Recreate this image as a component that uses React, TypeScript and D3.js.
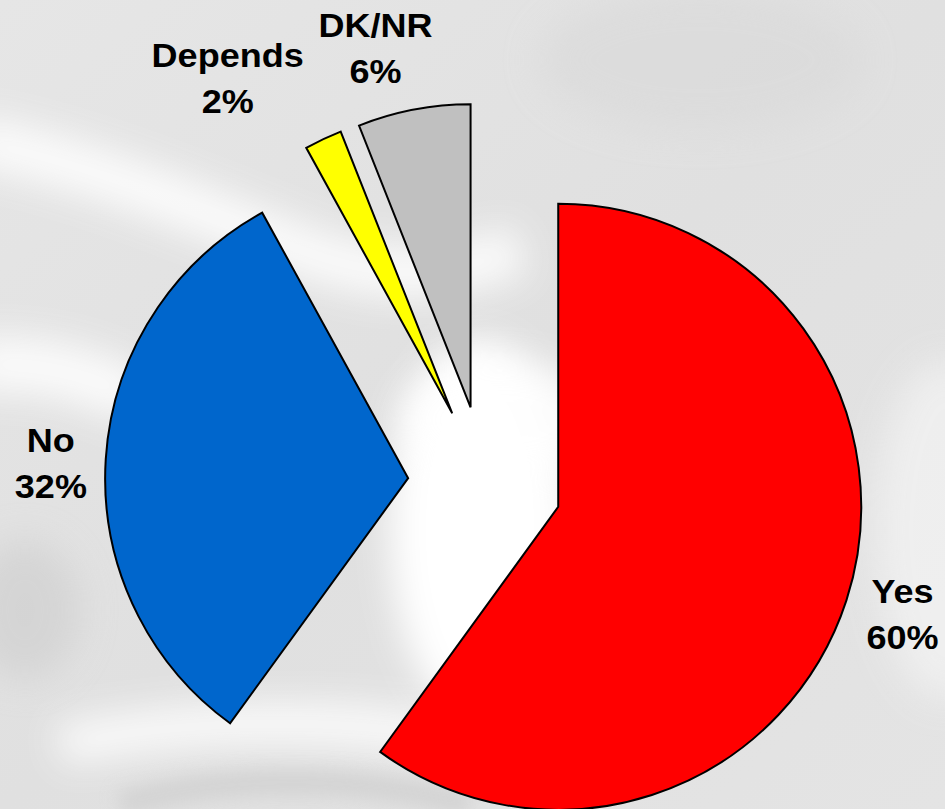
import React from "react";
import * as d3 from "d3";

const categories = ["Yes", "No", "Depends", "DK/NR"];
const values = [60, 32, 2, 6];
const labels = ["60%", "32%", "2%", "6%"];
const colors = ["#FF0000", "#0066CC", "#FFFF00", "#C0C0C0"];

const W = 945;
const H = 809;
const CX = 485;
const CY = 483;
const R = 303;
const EXPLODE = 77;
const LABEL_R = 440;
const labelNudge: [number, number][] = [
  [-1, -4],
  [5, 9],
  [-70, -6],
  [-27, -2],
];

export default function App() {
  const pie = d3
    .pie<number>()
    .sort(null)
    .startAngle(0)
    .endAngle(2 * Math.PI)
    .value((d) => d);
  const arcs = pie(values);
  const arc = d3.arc<d3.PieArcDatum<number>>().innerRadius(0).outerRadius(R);

  return (
    <svg
      width={W}
      height={H}
      style={{ position: "absolute", left: 0, top: 0, display: "block" }}
    >
      <defs>
        <filter
          id="blur20"
          filterUnits="userSpaceOnUse"
          x={-100}
          y={-100}
          width={W + 200}
          height={H + 200}
        >
          <feGaussianBlur stdDeviation="18" />
        </filter>
        <filter
          id="blur10"
          filterUnits="userSpaceOnUse"
          x={-100}
          y={-100}
          width={W + 200}
          height={H + 200}
        >
          <feGaussianBlur stdDeviation="9" />
        </filter>
        <linearGradient id="bgGrad" x1="0" y1="0" x2="1" y2="1">
          <stop offset="0" stopColor="#e6e6e6" />
          <stop offset="0.5" stopColor="#e0e0e0" />
          <stop offset="1" stopColor="#e4e4e4" />
        </linearGradient>
      </defs>
      <rect x={0} y={0} width={W} height={H} fill="url(#bgGrad)" />
      <g>
        <path
          d="M -30 140 C 80 160 200 210 300 250 C 380 280 430 280 520 250"
          stroke="#ffffff"
          strokeWidth={50}
          fill="none"
          opacity={0.85}
          filter="url(#blur20)"
        />
        <path
          d="M -30 365 C 40 360 90 375 140 400"
          stroke="#ffffff"
          strokeWidth={55}
          fill="none"
          opacity={0.85}
          filter="url(#blur20)"
        />
        <ellipse
          cx={480}
          cy={530}
          rx={90}
          ry={190}
          fill="#ffffff"
          filter="url(#blur20)"
        />
        <ellipse
          cx={500}
          cy={420}
          rx={100}
          ry={60}
          fill="#ffffff"
          opacity={0.8}
          filter="url(#blur20)"
        />
        <path
          d="M 60 745 C 180 720 330 715 460 740"
          stroke="#ffffff"
          strokeWidth={40}
          fill="none"
          opacity={0.85}
          filter="url(#blur20)"
        />
        <path
          d="M 120 805 C 220 775 360 775 470 805"
          stroke="#d0d0d0"
          strokeWidth={26}
          fill="none"
          opacity={0.8}
          filter="url(#blur10)"
        />
        <ellipse
          cx={25}
          cy={610}
          rx={55}
          ry={70}
          fill="#d2d2d2"
          opacity={0.8}
          filter="url(#blur20)"
        />
        <ellipse
          cx={945}
          cy={530}
          rx={70}
          ry={170}
          fill="#f2f2f2"
          opacity={0.8}
          filter="url(#blur20)"
        />
        <ellipse
          cx={700}
          cy={60}
          rx={160}
          ry={70}
          fill="#dadada"
          opacity={0.7}
          filter="url(#blur20)"
        />
      </g>
      <g>
        {arcs.map((a, i) => {
          const mid = (a.startAngle + a.endAngle) / 2;
          const dx = Math.sin(mid) * EXPLODE;
          const dy = -Math.cos(mid) * EXPLODE;
          return (
            <path
              key={categories[i]}
              d={arc(a) || ""}
              transform={`translate(${CX + dx},${CY + dy})`}
              fill={colors[i]}
              stroke="#000000"
              strokeWidth={2}
              strokeLinejoin="miter"
            />
          );
        })}
      </g>
      <g
        fontFamily="'Liberation Sans', Arial, sans-serif"
        fontWeight="bold"
        fontSize={34}
        fill="#000000"
        textAnchor="middle"
      >
        {arcs.map((a, i) => {
          const mid = (a.startAngle + a.endAngle) / 2;
          const lx = CX + Math.sin(mid) * LABEL_R + labelNudge[i][0];
          const ly = CY - Math.cos(mid) * LABEL_R + labelNudge[i][1];
          return (
            <g
              key={categories[i]}
              transform={`translate(${lx},${ly}) scale(1.06,1)`}
            >
              <text x={0} y={-12}>
                {categories[i]}
              </text>
              <text x={0} y={34}>
                {labels[i]}
              </text>
            </g>
          );
        })}
      </g>
    </svg>
  );
}
